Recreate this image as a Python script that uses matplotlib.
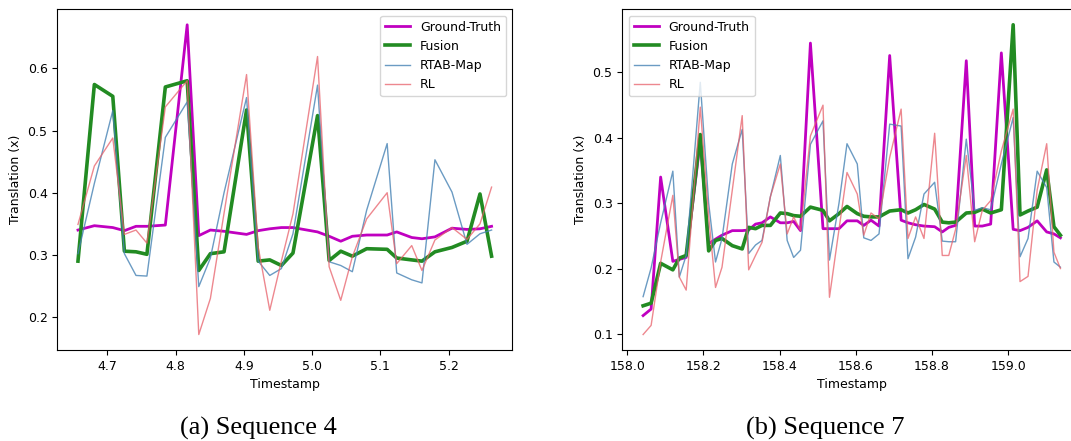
import matplotlib
matplotlib.use("Agg")
import matplotlib.pyplot as plt

plt.rcParams["font.size"] = 9

# Sequence 4
t_seq4 = [4.657, 4.681, 4.708, 4.725, 4.742, 4.758, 4.785, 4.817, 4.834, 4.851,
          4.871, 4.904, 4.921, 4.938, 4.955, 4.972, 5.008, 5.025, 5.042, 5.059,
          5.080, 5.110, 5.124, 5.146, 5.161, 5.180, 5.205, 5.227, 5.246, 5.263]
gt_seq4 = [0.340, 0.347, 0.344, 0.339, 0.346, 0.346, 0.348, 0.670, 0.331, 0.340,
           0.338, 0.333, 0.339, 0.342, 0.344, 0.344, 0.337, 0.330, 0.322, 0.330,
           0.332, 0.332, 0.337, 0.328, 0.326, 0.329, 0.343, 0.341, 0.342, 0.346]
fusion_seq4 = [0.290, 0.574, 0.555, 0.306, 0.305, 0.301, 0.570, 0.580, 0.275, 0.302,
               0.305, 0.533, 0.290, 0.292, 0.283, 0.303, 0.524, 0.291, 0.306, 0.298,
               0.310, 0.309, 0.295, 0.292, 0.290, 0.305, 0.312, 0.322, 0.398, 0.298]
rtab_seq4 = [0.302, 0.415, 0.532, 0.302, 0.267, 0.266, 0.489, 0.546, 0.249, 0.295,
             0.400, 0.553, 0.290, 0.267, 0.278, 0.334, 0.573, 0.289, 0.283, 0.273,
             0.372, 0.479, 0.271, 0.260, 0.255, 0.453, 0.401, 0.317, 0.334, 0.340]
rl_seq4 = [0.349, 0.443, 0.488, 0.333, 0.340, 0.319, 0.538, 0.580, 0.172, 0.230,
           0.367, 0.590, 0.313, 0.211, 0.290, 0.366, 0.619, 0.281, 0.227, 0.297,
           0.358, 0.400, 0.286, 0.315, 0.275, 0.324, 0.344, 0.325, 0.350, 0.409]

# Sequence 7
t_seq7 = [158.042, 158.063, 158.088, 158.120, 158.137, 158.155, 158.192, 158.214, 158.232, 158.249,
          158.276, 158.302, 158.319, 158.337, 158.354, 158.376, 158.402, 158.420, 158.437, 158.455,
          158.481, 158.514, 158.531, 158.556, 158.577, 158.604, 158.621, 158.640, 158.661, 158.689,
          158.719, 158.737, 158.757, 158.779, 158.807, 158.827, 158.844, 158.862, 158.890, 158.912,
          158.932, 158.954, 158.982, 159.013, 159.031, 159.052, 159.076, 159.101, 159.120, 159.137]
gt_seq7 = [0.128, 0.138, 0.340, 0.211, 0.214, 0.217, 0.395, 0.238, 0.245, 0.251,
           0.258, 0.258, 0.259, 0.268, 0.270, 0.279, 0.270, 0.270, 0.272, 0.258,
           0.545, 0.261, 0.261, 0.261, 0.273, 0.273, 0.266, 0.274, 0.265, 0.526,
           0.274, 0.270, 0.267, 0.265, 0.264, 0.256, 0.263, 0.266, 0.518, 0.265,
           0.265, 0.268, 0.530, 0.260, 0.258, 0.263, 0.273, 0.256, 0.253, 0.247]
fusion_seq7 = [0.143, 0.147, 0.208, 0.198, 0.216, 0.220, 0.405, 0.227, 0.243, 0.246,
               0.235, 0.230, 0.263, 0.261, 0.266, 0.266, 0.285, 0.284, 0.281, 0.280,
               0.294, 0.289, 0.273, 0.284, 0.295, 0.284, 0.280, 0.279, 0.279, 0.288,
               0.290, 0.285, 0.290, 0.298, 0.291, 0.271, 0.270, 0.271, 0.285, 0.286,
               0.291, 0.285, 0.290, 0.573, 0.282, 0.288, 0.294, 0.351, 0.264, 0.251]
rtab_seq7 = [0.157, 0.201, 0.270, 0.349, 0.187, 0.220, 0.485, 0.300, 0.210, 0.246,
             0.360, 0.413, 0.223, 0.236, 0.243, 0.310, 0.373, 0.243, 0.217, 0.228,
             0.390, 0.426, 0.213, 0.300, 0.391, 0.360, 0.247, 0.243, 0.253, 0.421,
             0.418, 0.215, 0.248, 0.314, 0.332, 0.242, 0.241, 0.241, 0.398, 0.289,
             0.293, 0.290, 0.360, 0.431, 0.218, 0.246, 0.349, 0.324, 0.210, 0.202]
rl_seq7 = [0.099, 0.113, 0.210, 0.312, 0.187, 0.167, 0.447, 0.280, 0.171, 0.202,
           0.320, 0.434, 0.198, 0.220, 0.240, 0.310, 0.360, 0.253, 0.279, 0.258,
           0.403, 0.450, 0.156, 0.260, 0.347, 0.314, 0.251, 0.285, 0.276, 0.370,
           0.444, 0.246, 0.279, 0.246, 0.407, 0.220, 0.220, 0.260, 0.373, 0.241,
           0.289, 0.304, 0.380, 0.444, 0.180, 0.188, 0.320, 0.391, 0.225, 0.200]


def desenha(ax, t, gt, fusion, rtab, rl, loc):
    ax.plot(t, gt, color="#c000c0", lw=2.0, label="Ground-Truth")
    ax.plot(t, fusion, color="#228b22", lw=2.6, label="Fusion")
    ax.plot(t, rtab, color="steelblue", lw=1.0, alpha=0.8, label="RTAB-Map")
    ax.plot(t, rl, color="#e8606a", lw=1.0, alpha=0.75, label="RL")
    ax.set_xlabel("Timestamp")
    ax.set_ylabel("Translation (x)")
    ax.legend(loc=loc)


fig = plt.figure(figsize=(10.71, 4.41), dpi=100)
ax1 = fig.add_axes([0.0535, 0.2063, 0.4248, 0.7726])
# the right panel runs past the edge of the figure, as in the cropped original
ax2 = fig.add_axes([0.581, 0.2063, 0.4286, 0.7726])

desenha(ax1, t_seq4, gt_seq4, fusion_seq4, rtab_seq4, rl_seq4, "upper right")
desenha(ax2, t_seq7, gt_seq7, fusion_seq7, rtab_seq7, rl_seq7, "upper left")

fig.text(258 / 1071, 0.014, "(a) Sequence 4", ha="center", va="baseline",
         family="Liberation Serif", fontsize=19)
fig.text(825 / 1071, 0.014, "(b) Sequence 7", ha="center", va="baseline",
         family="Liberation Serif", fontsize=19)

fig.savefig("out.png", dpi=100)
